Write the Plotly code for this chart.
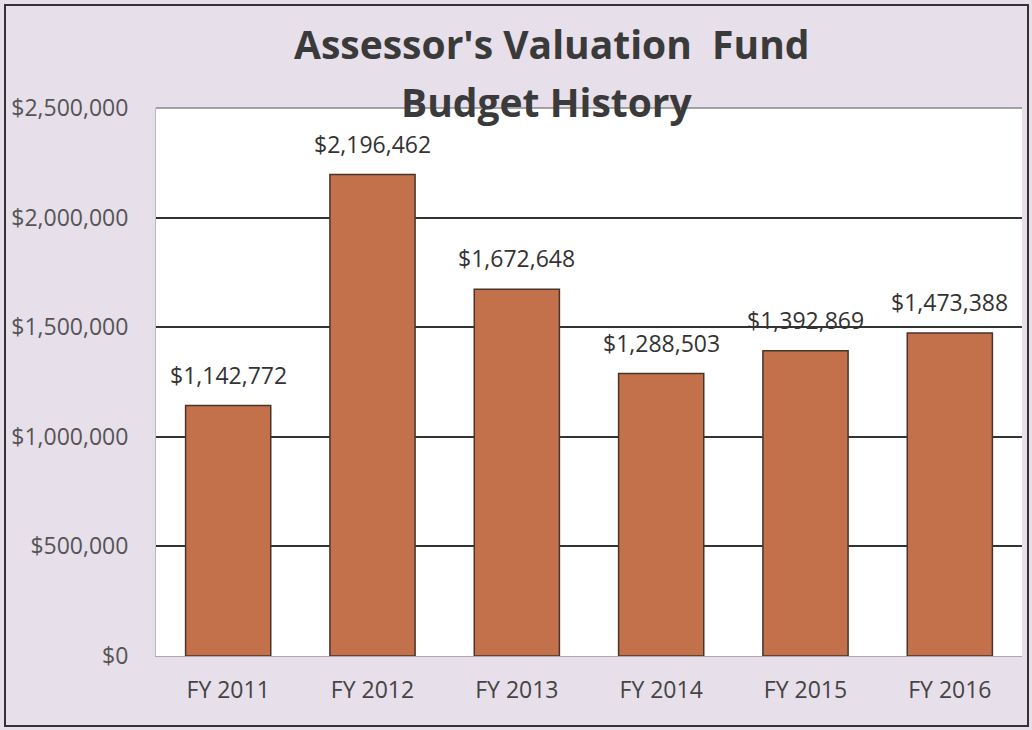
import plotly.graph_objects as go

categories = ["FY 2011", "FY 2012", "FY 2013", "FY 2014", "FY 2015", "FY 2016"]
values = [1142772, 2196462, 1672648, 1288503, 1392869, 1473388]
tick_vals = [0, 500000, 1000000, 1500000, 2000000, 2500000]
tick_text = ["$0", "$500,000", "$1,000,000", "$1,500,000", "$2,000,000", "$2,500,000"]
title_lines = ["Assessor's Valuation  Fund", "Budget History"]

labels = ["${:,}".format(v) for v in values]

W, H = 1032, 730
L, R, T, B = 156, 10, 108, 74
PW, PH = W - L - R, H - T - B


def px(x):
    return (x - L) / PW


def py(y):
    return 1 - (y - T) / PH


fig = go.Figure()
fig.add_trace(go.Bar(
    x=categories, y=values,
    marker=dict(color="#c2714b", line=dict(color="#4a3328", width=1.5)),
    hoverinfo="x+y",
))

# value labels above bars
for c, v, t in zip(categories, values, labels):
    fig.add_annotation(x=c, y=v, text=t, showarrow=False, xanchor="center",
                       yanchor="bottom", yshift=13,
                       font=dict(family="Open Sans", size=23, color="#333333"))

fig.update_layout(
    width=W, height=H,
    margin=dict(l=L, r=R, t=T, b=B),
    paper_bgcolor="#e7dfea",
    plot_bgcolor="#ffffff",
    bargap=0.41,
    showlegend=False,
    font=dict(family="Open Sans", color="#444444"),
    xaxis=dict(tickfont=dict(size=23, color="#444444"), ticks="", showline=True,
               linecolor="#aaaaaa", linewidth=1, showgrid=False,
               ticklabelstandoff=13),
    yaxis=dict(range=[0, 2500000], tickvals=tick_vals, ticktext=tick_text,
               tickfont=dict(size=23, color="#555555"), showgrid=True,
               gridcolor="#333333", gridwidth=1.5, zeroline=False, ticks="",
               showline=True, linecolor="#bbbbbb", linewidth=1,
               ticklabelstandoff=22, automargin=False),
)

# top boundary line at $2,500,000
fig.add_shape(type="line", xref="paper", yref="paper", x0=0, x1=1, y0=1, y1=1,
              line=dict(color="#888888", width=1.5))

fig.add_annotation(text="<b>" + title_lines[0] + "</b>", xref="paper", yref="paper",
                   x=px(551), y=py(44), showarrow=False, yanchor="middle", xanchor="center",
                   font=dict(family="Open Sans", size=39, color="#3a3a3a"))
fig.add_annotation(text="<b>" + title_lines[1] + "</b>", xref="paper", yref="paper",
                   x=px(547), y=py(101), showarrow=False, yanchor="middle", xanchor="center",
                   font=dict(family="Open Sans", size=39, color="#3a3a3a"))

# outer frame
fig.add_shape(type="rect", xref="paper", yref="paper",
              x0=px(5), x1=px(1028), y0=py(726), y1=py(5),
              line=dict(color="#333333", width=2), fillcolor="rgba(0,0,0,0)", layer="below")

fig.write_html("out.html", config={"displayModeBar": False},
               post_script="document.body.style.margin='0';")
